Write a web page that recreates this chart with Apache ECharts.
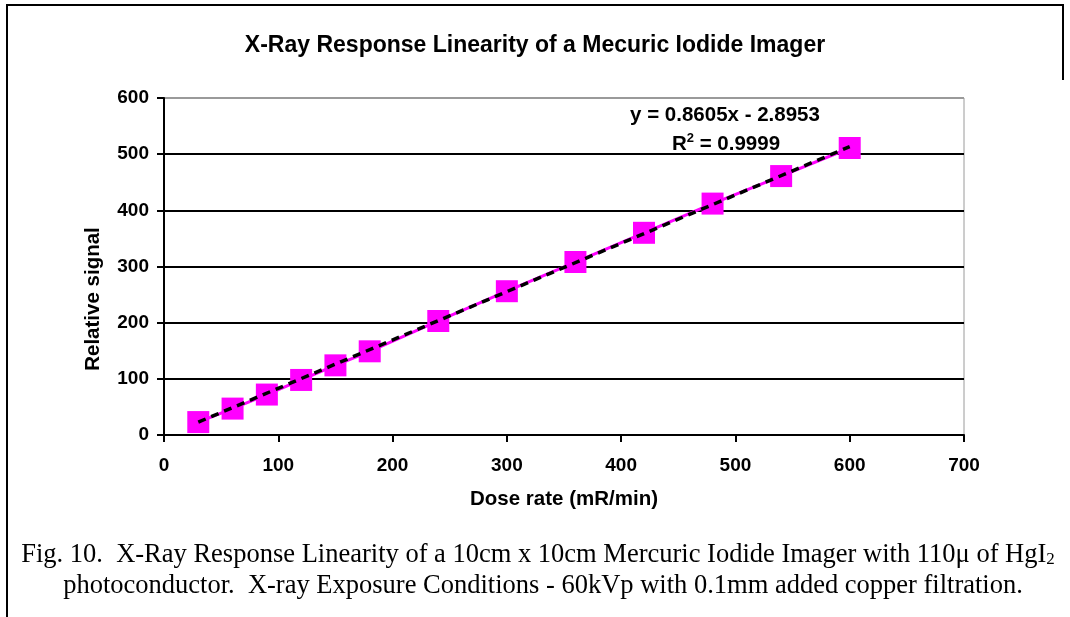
<!DOCTYPE html>
<html>
<head>
<meta charset="utf-8">
<title>X-Ray Response Linearity</title>
<script src="https://cdn.jsdelivr.net/npm/echarts@6/dist/echarts.min.js"></script>
<style>
  html, body { margin: 0; padding: 0; background: #fff; }
  #chart { width: 1070px; height: 617px; }
</style>
</head>
<body>
<div id="chart"></div>
<script>
// Measured dose rates (mR/min) and the relative signal read at each one
const doseRate = [30, 60, 90, 120, 150, 180, 240, 300, 360, 420, 480, 540, 600];
const signal = [23, 47, 72, 98, 124, 149, 203, 256, 308, 360, 412, 461, 511];

// Least-squares fit reported on the chart: slope, intercept, R²
const fitSlope = 0.8605;
const fitIntercept = -2.8953;
const fitR2 = 0.9999;

// Axis ticks
const xTicks = [0, 100, 200, 300, 400, 500, 600, 700];
const yTicks = [0, 100, 200, 300, 400, 500, 600];

const titleText = 'X-Ray Response Linearity of a Mecuric Iodide Imager';
const xName = 'Dose rate (mR/min)';
const yName = 'Relative signal';

const SANS = '"Liberation Sans", Arial, sans-serif';
const SERIF = '"Liberation Serif", "Times New Roman", serif';

const points = doseRate.map((x, i) => [x, signal[i]]);
// Trend line spans the measured range
const xFirst = doseRate[0];
const xLast = doseRate[doseRate.length - 1];
const trend = [
  [xFirst, fitSlope * xFirst + fitIntercept],
  [xLast, fitSlope * xLast + fitIntercept]
];

const chart = echarts.init(document.getElementById('chart'), null, { renderer: 'canvas' });

const gridLineColors = yTicks.map((v, i) => (i === yTicks.length - 1 ? '#9a9a9a' : '#000'));

chart.setOption({
  backgroundColor: '#fff',
  animation: false,
  title: {
    text: titleText,
    left: 'center',
    top: 29,
    textStyle: { fontFamily: SANS, fontSize: 23, fontWeight: 'bold', color: '#000' }
  },
  grid: {
    left: 164, top: 98, width: 800, height: 337,
    show: true, borderColor: '#9a9a9a', borderWidth: 1, backgroundColor: 'transparent'
  },
  xAxis: {
    type: 'value',
    min: xTicks[0], max: xTicks[xTicks.length - 1], interval: 100,
    name: xName,
    nameLocation: 'middle',
    nameGap: 54,
    nameTextStyle: { fontFamily: SANS, fontSize: 20.5, fontWeight: 'bold', color: '#000' },
    axisLine: { lineStyle: { color: '#000', width: 2 } },
    axisTick: { show: true, inside: false, length: 7, lineStyle: { color: '#000', width: 2 } },
    axisLabel: { fontFamily: SANS, fontSize: 19, fontWeight: 'bold', color: '#000', margin: 21 },
    splitLine: { show: false }
  },
  yAxis: {
    type: 'value',
    min: yTicks[0], max: yTicks[yTicks.length - 1], interval: 100,
    axisLine: { show: true, lineStyle: { color: '#000', width: 2 } },
    axisTick: { show: true, inside: false, length: 7, lineStyle: { color: '#000', width: 2 } },
    axisLabel: { fontFamily: SANS, fontSize: 19, fontWeight: 'bold', color: '#000', margin: 15 },
    splitLine: { show: true, lineStyle: { color: gridLineColors, width: 2 } }
  },
  graphic: [
    // page frame
    {
      type: 'polyline', silent: true,
      shape: { points: [[7, 617], [7, 5], [1063, 5], [1063, 80]] },
      style: { stroke: '#000', lineWidth: 2, fill: null }
    },
    {
      type: 'text', x: 93, y: 299, rotation: Math.PI / 2, silent: true,
      style: {
        text: yName, fontFamily: SANS, fontSize: 20.5, fontWeight: 'bold', fill: '#000',
        align: 'center', verticalAlign: 'middle'
      }
    },
    {
      type: 'text', x: 725, y: 115, silent: true,
      style: {
        text: 'y = ' + fitSlope.toFixed(4) + 'x - ' + Math.abs(fitIntercept).toFixed(4),
        fontFamily: SANS, fontSize: 20.5, fontWeight: 'bold', fill: '#000',
        align: 'center', verticalAlign: 'middle'
      }
    },
    {
      type: 'text', x: 726, y: 143, silent: true,
      style: {
        text: '{b|R}{sup|2}{b| = ' + fitR2.toFixed(4) + '}',
        align: 'center', verticalAlign: 'middle',
        rich: {
          b: { fontFamily: SANS, fontSize: 20.5, fontWeight: 'bold', fill: '#000', verticalAlign: 'bottom' },
          sup: { fontFamily: SANS, fontSize: 13, fontWeight: 'bold', fill: '#000', verticalAlign: 'top', padding: [0, 0, 10, 0] }
        }
      }
    },
    {
      type: 'text', x: 538, y: 555, silent: true,
      style: {
        text: '{t|Fig. 10.  X-Ray Response Linearity of a 10cm x 10cm Mercuric Iodide Imager with 110μ of HgI}{s|2}',
        align: 'center', verticalAlign: 'middle',
        rich: {
          t: { fontFamily: SERIF, fontSize: 26.5, fill: '#000', verticalAlign: 'bottom' },
          s: { fontFamily: SERIF, fontSize: 17, fill: '#000', verticalAlign: 'bottom', padding: [8, 0, 0, 0] }
        }
      }
    },
    {
      type: 'text', x: 543, y: 586, silent: true,
      style: {
        text: 'photoconductor.  X-ray Exposure Conditions - 60kVp with 0.1mm added copper filtration.',
        fontFamily: SERIF, fontSize: 26.5, fill: '#000', align: 'center', verticalAlign: 'middle'
      }
    }
  ],
  series: [
    {
      name: 'Signal',
      type: 'line',
      data: points,
      symbol: 'rect',
      symbolSize: 22,
      lineStyle: { color: '#ff00ff', width: 3 },
      itemStyle: { color: '#ff00ff' },
      z: 2
    },
    {
      name: 'Linear fit',
      type: 'line',
      data: trend,
      symbol: 'none',
      lineStyle: { color: '#000', width: 3.5, type: [8, 6] },
      z: 3
    }
  ]
});
</script>
</body>
</html>
